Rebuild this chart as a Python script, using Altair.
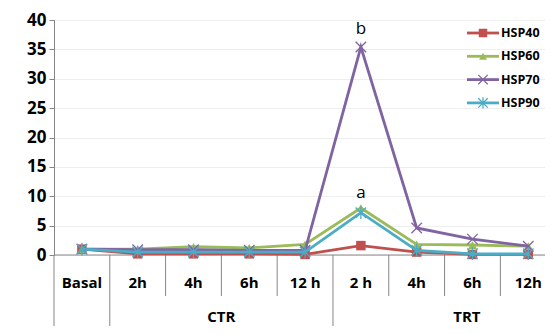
import altair as alt
import pandas as pd

categories = ["Basal", "2h", "4h", "6h", "12 h", "2 h", "4h", "6h", "12h"]
groups = ["CTR", "TRT"]
series = ["HSP40", "HSP60", "HSP70", "HSP90"]
hsp40 = [1.0, 0.2, 0.2, 0.2, 0.1, 1.6, 0.5, 0.1, 0.1]
hsp60 = [1.0, 1.0, 1.4, 1.2, 1.8, 8.0, 1.8, 1.7, 1.5]
hsp70 = [1.0, 0.9, 0.9, 0.8, 0.8, 35.4, 4.6, 2.7, 1.5]
hsp90 = [1.0, 0.5, 0.5, 0.5, 0.5, 7.2, 0.8, 0.2, 0.2]
y_ticks = [0, 5, 10, 15, 20, 25, 30, 35, 40]
annotations = [("b", "HSP70", 5), ("a", "HSP60", 5)]

colors = ["#c0504d", "#9bbb59", "#8064a2", "#4bacc6"]
shapes = ["square", "triangle-up", "M-1,-1L1,1M-1,1L1,-1", "M-1,-1L1,1M-1,1L1,-1M0,-1.2L0,1.2"]
filled = [True, True, False, False]
sizes = [90, 80, 110, 110]

W, H = 491, 235
FONT = "Open Sans"
values = dict(zip(series, [hsp40, hsp60, hsp70, hsp90]))

xs = alt.Scale(domain=[-0.5, 8.3])
ys = alt.Scale(domain=[0, 40], nice=False)
yaxis = alt.Axis(
    values=y_ticks, grid=True, gridColor="#eeeeee", domainColor="#868686",
    tickColor="#868686", tickSize=5, labelFontSize=17, labelFont=FONT,
    labelFontWeight="bold", labelColor="black", labelPadding=3, title=None,
    labelOverlap=False, labelFlush=False)


def Y(field):
    return alt.Y(field, scale=ys, axis=yaxis)


layers = []

# zero line
layers.append(
    alt.Chart(pd.DataFrame({"y": [0]})).mark_rule(color="#868686", strokeWidth=1).encode(
        y=Y("y:Q"), x=alt.value(0), x2=alt.value(W))
)

# separators
short_seps = [1.5, 2.5, 3.5, 5.5, 6.5, 7.5]
long_seps = [-0.5, 0.5, 4.5]
layers.append(
    alt.Chart(pd.DataFrame({"x": short_seps})).mark_rule(color="#868686").encode(
        x=alt.X("x:Q", scale=xs, axis=None), y=alt.value(H), y2=alt.value(H + 41))
)
layers.append(
    alt.Chart(pd.DataFrame({"x": long_seps})).mark_rule(color="#868686").encode(
        x=alt.X("x:Q", scale=xs, axis=None), y=alt.value(H), y2=alt.value(H + 75))
)

# category labels
layers.append(
    alt.Chart(pd.DataFrame({"x": list(range(len(categories))), "t": categories})).mark_text(
        font=FONT, fontSize=15, fontWeight="bold", color="black", baseline="middle").encode(
        x=alt.X("x:Q", scale=xs, axis=None), y=alt.value(H + 28), text="t:N")
)
layers.append(
    alt.Chart(pd.DataFrame({"x": [2.5, 6.9], "t": groups})).mark_text(
        font=FONT, fontSize=15, fontWeight="bold", color="black", baseline="middle").encode(
        x=alt.X("x:Q", scale=xs, axis=None), y=alt.value(H + 62), text="t:N")
)

# series
for i, s in enumerate(series):
    df = pd.DataFrame({"x": list(range(len(categories))), "v": values[s]})
    base = alt.Chart(df).encode(x=alt.X("x:Q", scale=xs, axis=None), y=Y("v:Q"))
    layers.append(base.mark_line(color=colors[i], strokeWidth=2.8))
    if filled[i]:
        layers.append(base.mark_point(shape=shapes[i], filled=True, color=colors[i], size=sizes[i], opacity=1))
    else:
        layers.append(base.mark_point(shape=shapes[i], filled=False, color=colors[i], size=sizes[i],
                                      strokeWidth=1.3, opacity=1))

# annotations
for txt, s, idx in annotations:
    df = pd.DataFrame({"x": [idx], "v": [values[s][idx]], "t": [txt]})
    layers.append(
        alt.Chart(df).mark_text(font=FONT, fontSize=17, color="black", dy=-18 if s == "HSP70" else -15,
                                baseline="middle").encode(
            x=alt.X("x:Q", scale=xs, axis=None), y=Y("v:Q"), text="t:N")
    )

# legend
for i, s in enumerate(series):
    ly = 13 + 23.3 * i
    d = pd.DataFrame({"t": [s]})
    layers.append(alt.Chart(d).mark_rule(color=colors[i], strokeWidth=2.8).encode(
        x=alt.value(413), x2=alt.value(445), y=alt.value(ly)))
    layers.append(alt.Chart(d).mark_point(shape=shapes[i], filled=filled[i], color=colors[i],
                                          size=sizes[i] * 0.8, opacity=1,
                                          strokeWidth=1.3).encode(
        x=alt.value(429), y=alt.value(ly)))
    layers.append(alt.Chart(d).mark_text(font=FONT, fontSize=12.5, fontWeight="bold", color="black",
                                         align="left", baseline="middle").encode(
        x=alt.value(447), y=alt.value(ly), text="t:N"))

chart = alt.layer(*layers).properties(
    width=W, height=H,
    padding={"left": 46, "top": 12, "right": 0, "bottom": 71},
    autosize=alt.AutoSizeParams(type="none"),
).configure_view(stroke=None).configure(background="white")

chart.save("out.html", embed_options={"renderer": "svg", "actions": False})
